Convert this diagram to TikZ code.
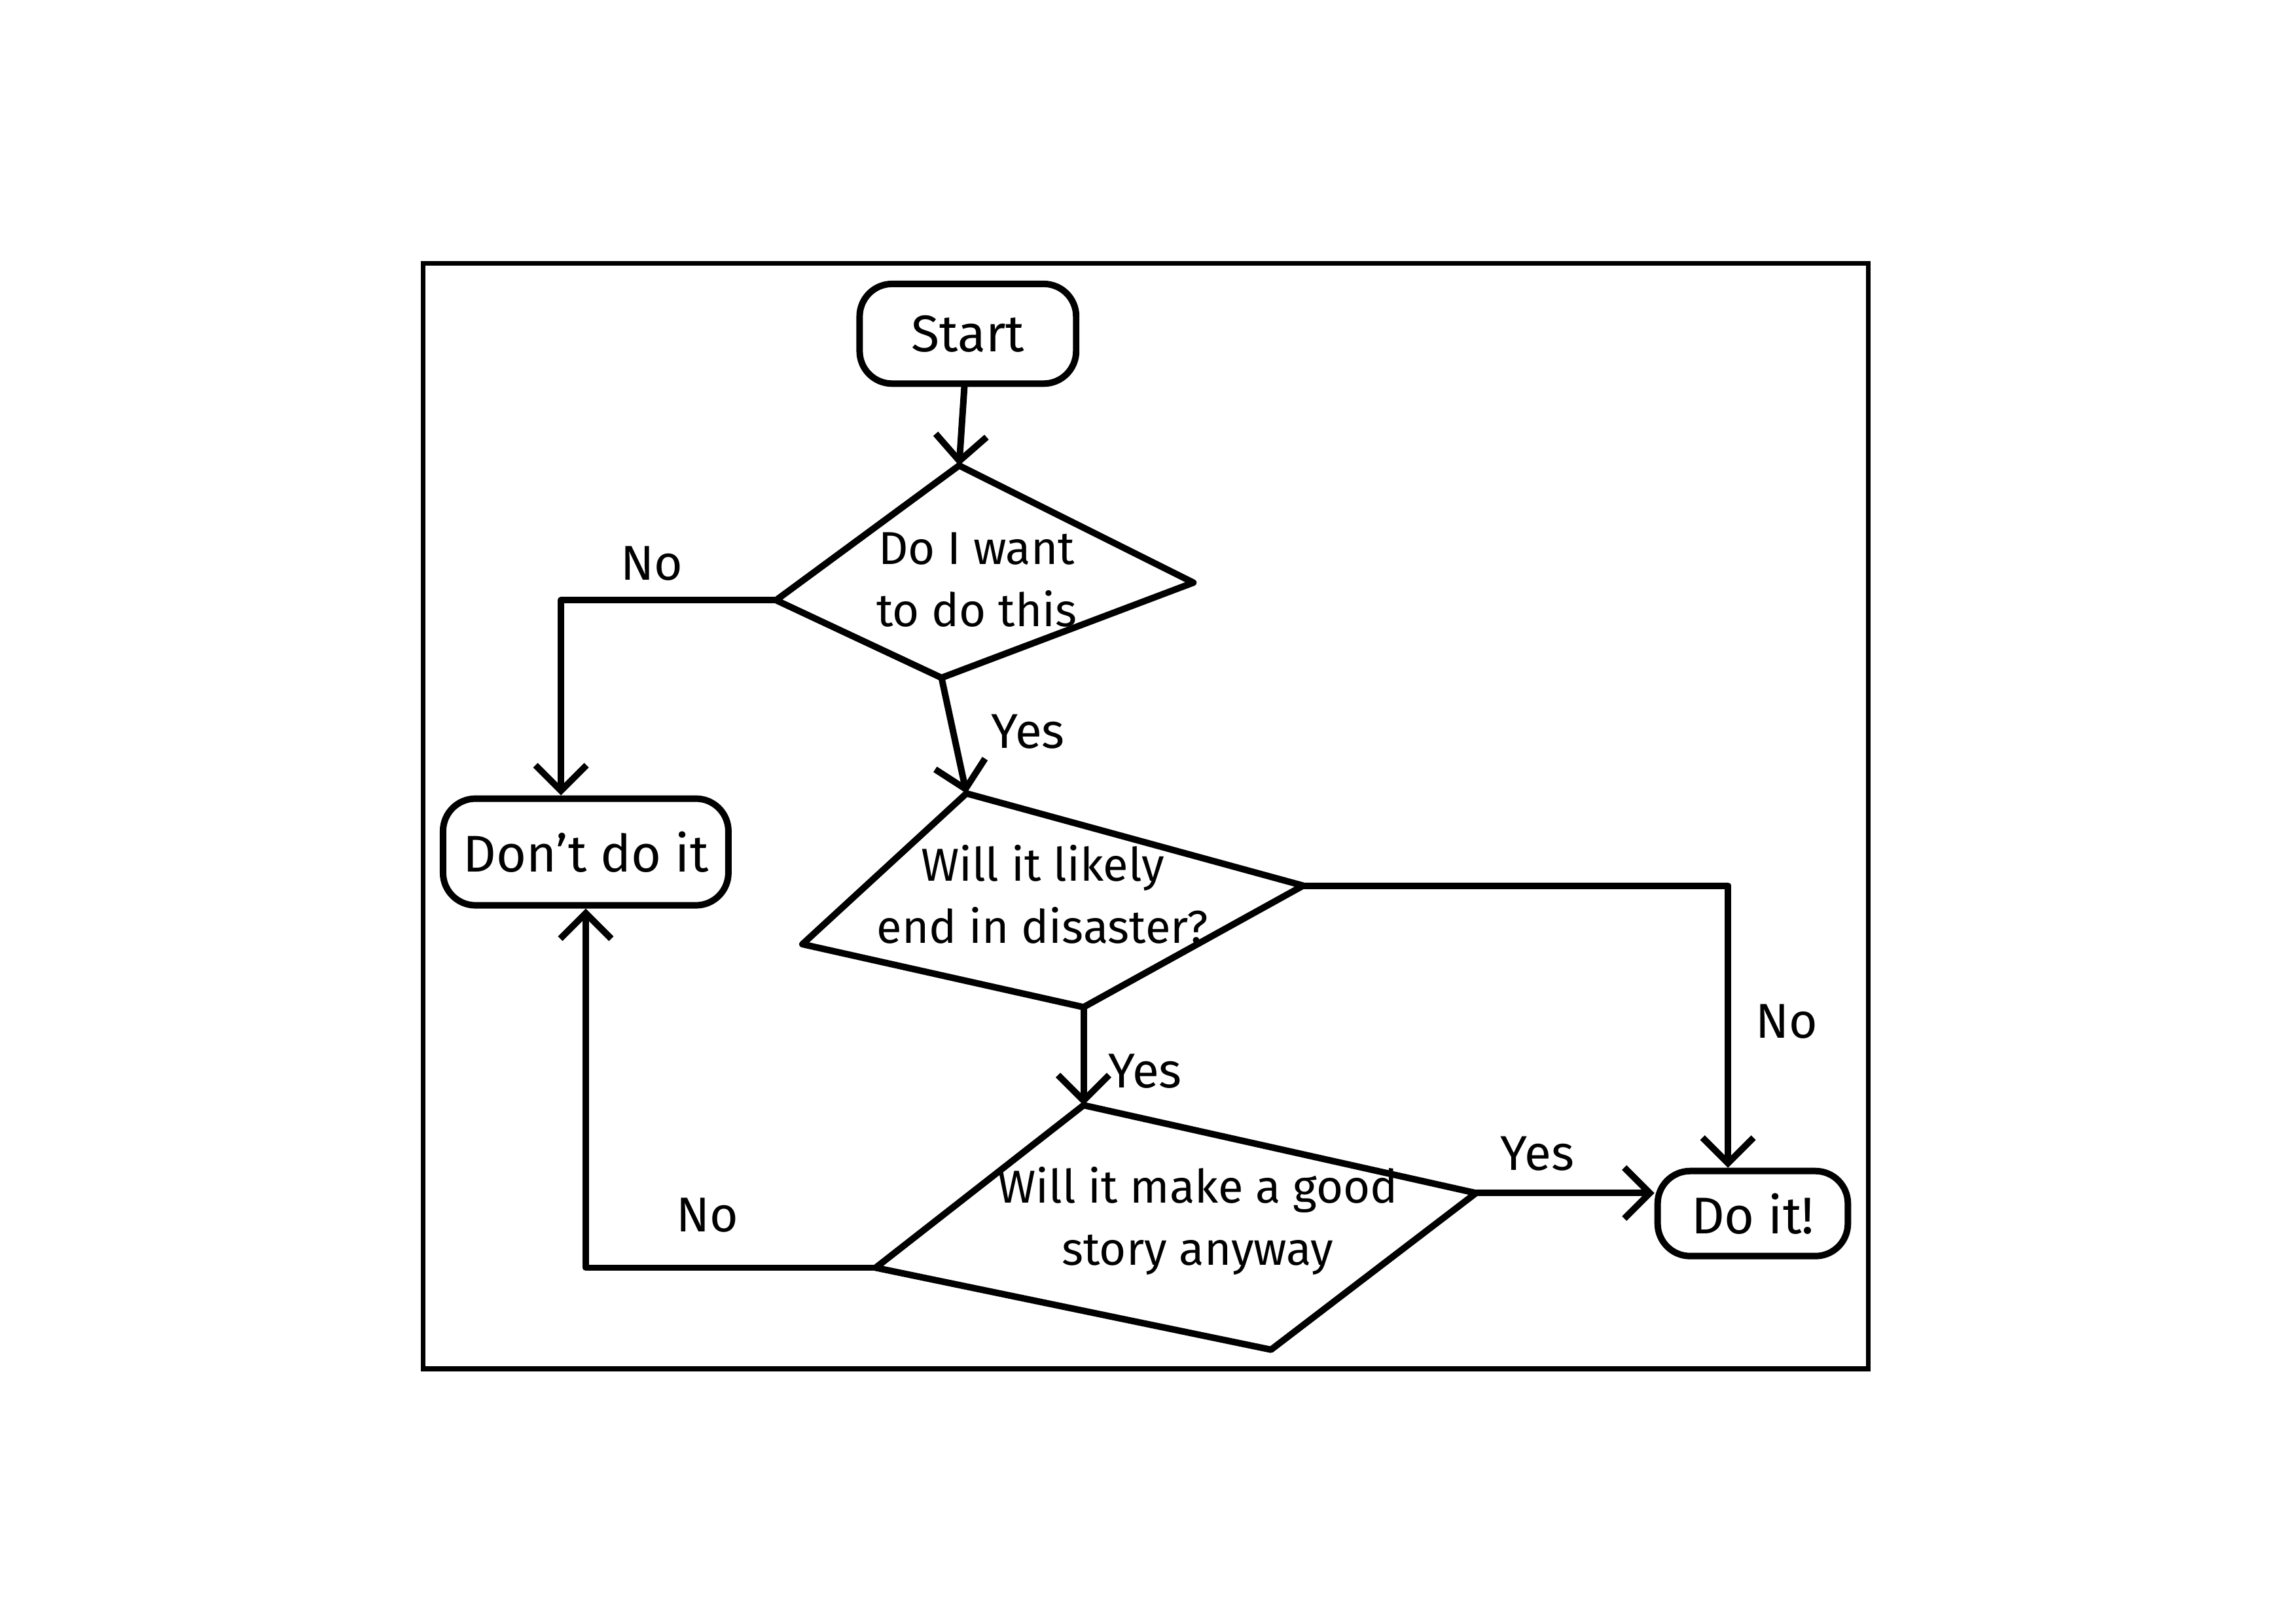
\documentclass[tikz,border=0pt]{standalone}
\usepackage{fontspec}
\setmainfont{Fira Sans}
\usetikzlibrary{arrows.meta}

\tikzset{
  hand/.style={line width=2.4pt, line join=round, line cap=round},
  term/.style={hand, draw, rounded corners=0.42cm, inner sep=0pt,
    align=center, font=\fontsize{19}{23}\selectfont},
  ask/.style={align=center, font=\fontsize{17}{23}\selectfont},
  answer/.style={font=\fontsize{18}{22}\selectfont},
  flow/.style={hand, -{Straight Barb[length=3.3mm, width=6.6mm, line width=2.4pt]}}
}

\begin{document}
\begin{tikzpicture}[x=0.01894cm, y=-0.01894cm]

          \useasboundingbox (0,0) rectangle (1568,1109);
          \draw[line width=1.8pt] (289,180) rectangle (1276,935);

          % terminals
          \node[term, minimum width=2.8cm, minimum height=1.29cm] (start) at (661,228) {Start};
          \node[term, minimum width=3.69cm, minimum height=1.38cm] (dont) at (400,582) {Don't do it};
          \node[term, minimum width=2.46cm, minimum height=1.1cm] (doit) at (1197,829) {Do it!};

          % questions
          \coordinate (q1t) at (655,318);  \coordinate (q1r) at (815,398);
          \coordinate (q1b) at (643,463);  \coordinate (q1l) at (530,410);
          \draw[hand] (q1t) -- (q1r) -- (q1b) -- (q1l) -- cycle;
          \node[ask] (q1) at (667,396) {Do I want\\to do this};

          \coordinate (q2t) at (660,542);  \coordinate (q2r) at (890,605);
          \coordinate (q2b) at (740,688);  \coordinate (q2l) at (548,645);
          \draw[hand] (q2t) -- (q2r) -- (q2b) -- (q2l) -- cycle;
          \node[ask] (q2) at (712,611) {Will it likely\\end in disaster?};

          \coordinate (q3t) at (740,755);  \coordinate (q3r) at (1008,815);
          \coordinate (q3b) at (868,922);  \coordinate (q3l) at (598,866);
          \draw[hand] (q3t) -- (q3r) -- (q3b) -- (q3l) -- cycle;
          \node[ask] (q3) at (818,834) {Will it make a good\\story anyway};

          % connectors
          \draw[flow] (start) -- (q1t);
          \draw[flow] (q1l) -| ([xshift=-0.32cm]dont.north);
          \draw[flow] (q1b) -- (q2t);
          \draw[flow] (q2r) -| ([xshift=-0.32cm]doit.north);
          \draw[flow] (q2b) -- (q3t);
          \draw[flow] (q3r) -- (q3r -| doit.west);
          \draw[flow] (q3l) -| (dont.south);

          % answers
          \node[answer] (no1) at (445,385) {No};
          \node[answer] (yes1) at (702,500) {Yes};
          \node[answer] (no2) at (1220,698) {No};
          \node[answer] (yes2) at (782,732) {Yes};
          \node[answer] (yes3) at (1050,788) {Yes};
          \node[answer] (no3) at (483,830) {No};

        \end{tikzpicture}
\end{document}
